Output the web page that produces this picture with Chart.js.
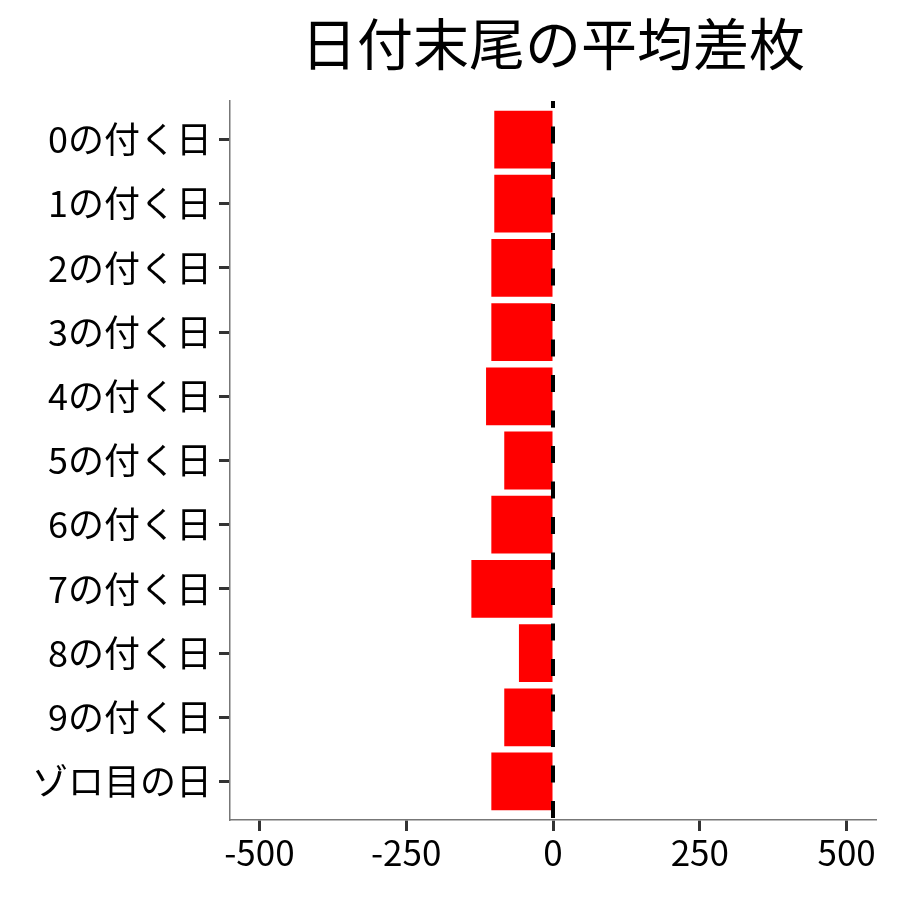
<!DOCTYPE html>
<html lang="ja">
<head>
<meta charset="utf-8">
<title>日付末尾の平均差枚</title>
<script src="https://cdn.jsdelivr.net/npm/chart.js@4"></script>
<style>
  html, body { margin: 0; padding: 0; background: #fff; }
  #wrap { width: 900px; height: 900px; }
</style>
</head>
<body>
<div id="wrap"><canvas id="chart" width="900" height="900"></canvas></div>
<script>
// ---- data ----
const chartTitle = '日付末尾の平均差枚';
const categories = ['0の付く日', '1の付く日', '2の付く日', '3の付く日', '4の付く日',
  '5の付く日', '6の付く日', '7の付く日', '8の付く日', '9の付く日', 'ゾロ目の日'];
const avgDiff = [-100, -100, -105, -105, -114, -83, -105, -139, -58, -83, -105];
const xTicks = [-500, -250, 0, 250, 500];

const FONT = '"Noto Sans CJK JP", "Noto Sans", sans-serif';

// title centred over the plot panel
const titlePlugin = {
  id: 'panelTitle',
  afterDraw(chart) {
    const { ctx, chartArea } = chart;
    ctx.save();
    ctx.font = `56px ${FONT}`;
    ctx.fillStyle = '#000';
    ctx.textAlign = 'center';
    ctx.textBaseline = 'middle';
    ctx.fillText(chartTitle, (chartArea.left + chartArea.right) / 2, 44);
    ctx.restore();
  }
};

// dashed reference line at x = 0
const zeroLine = {
  id: 'zeroLine',
  afterDatasetsDraw(chart) {
    const { ctx, chartArea, scales } = chart;
    const x = scales.x.getPixelForValue(0);
    ctx.save();
    ctx.strokeStyle = '#000';
    ctx.lineWidth = 4;
    ctx.setLineDash([17, 18.5]);
    ctx.lineDashOffset = 10;
    ctx.beginPath();
    ctx.moveTo(x, chartArea.top);
    ctx.lineTo(x, chartArea.bottom);
    ctx.stroke();
    ctx.restore();
  }
};

new Chart(document.getElementById('chart'), {
  type: 'bar',
  data: {
    datasets: [{
      data: avgDiff.map((v, i) => ({ x: v, y: i })),
      backgroundColor: '#ff0000',
      borderWidth: 0,
      categoryPercentage: 1,
      barPercentage: 0.9
    }]
  },
  options: {
    indexAxis: 'y',
    responsive: false,
    animation: false,
    layout: { padding: { top: 101, right: 24, bottom: 0, left: 0 } },
    plugins: { legend: { display: false }, tooltip: { enabled: false }, title: { display: false } },
    scales: {
      x: {
        type: 'linear',
        min: -550,
        max: 550,
        afterBuildTicks: s => { s.ticks = xTicks.map(v => ({ value: v })); },
        afterFit: s => { s.height = 80; },
        border: { display: true, color: '#777', width: 1.5 },
        grid: { drawOnChartArea: false, drawTicks: true, tickLength: 11, tickWidth: 3, tickColor: '#333' },
        ticks: { color: '#000', font: { family: FONT, size: 35 }, padding: 1, maxRotation: 0 }
      },
      y: {
        type: 'linear',
        reverse: true,
        offset: false,
        min: -0.6,
        max: categories.length - 0.4,
        afterBuildTicks: s => { s.ticks = categories.map((c, i) => ({ value: i })); },
        afterFit: s => { s.width = 230; },
        border: { display: true, color: '#777', width: 1.5 },
        grid: { offset: false, drawOnChartArea: false, drawTicks: true, tickLength: 11, tickWidth: 3, tickColor: '#333' },
        ticks: {
          color: '#000',
          font: { family: FONT, size: 36 },
          padding: 7,
          callback: v => categories[v]
        }
      }
    }
  },
  plugins: [titlePlugin, zeroLine]
});
</script>
</body>
</html>
